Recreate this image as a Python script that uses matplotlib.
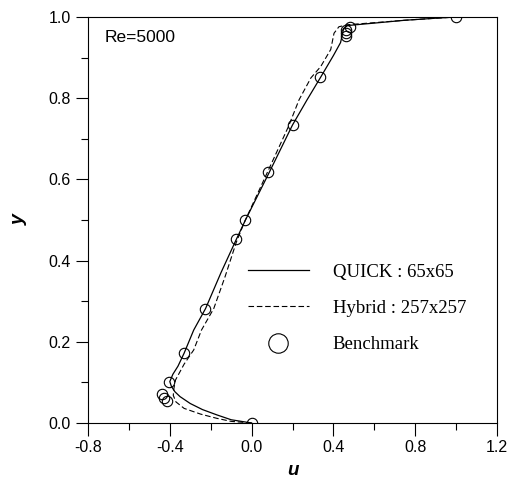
import matplotlib
matplotlib.use("Agg")
import matplotlib.pyplot as plt
from matplotlib.lines import Line2D
from matplotlib.ticker import MultipleLocator

# Benchmark (Ghia et al.) u-velocity along vertical centreline, Re=5000
bench_y = [1.0, 0.9766, 0.9688, 0.9609, 0.9531, 0.8516, 0.7344, 0.6172, 0.5,
           0.4531, 0.2813, 0.1719, 0.1016, 0.0703, 0.0625, 0.0547, 0.0]
bench_u = [1.0, 0.48223, 0.46120, 0.45992, 0.46036, 0.33556, 0.20087, 0.08183,
           -0.03039, -0.07404, -0.22855, -0.33050, -0.40435, -0.43643, -0.42901,
           -0.41165, 0.0]

# QUICK 65x65 profile
quick_u = [0.0, -0.10, -0.17, -0.24, -0.30, -0.35, -0.375, -0.392, -0.400, -0.385,
           -0.36, -0.33, -0.283, -0.225, -0.15, -0.075, -0.03, 0.085, 0.20, 0.27,
           0.338, 0.40, 0.435, 0.445, 0.450, 0.470, 0.60, 0.75, 0.90, 1.0]
quick_y = [0.0, 0.008, 0.020, 0.033, 0.048, 0.065, 0.077, 0.090, 0.102, 0.120,
           0.140, 0.172, 0.229, 0.282, 0.370, 0.452, 0.500, 0.616, 0.734, 0.795,
           0.852, 0.905, 0.937, 0.960, 0.972, 0.979, 0.985, 0.992, 0.997, 1.0]

# Hybrid 257x257 profile
hyb_u = [0.0, -0.10, -0.17, -0.25, -0.33, -0.37, -0.383, -0.380, -0.372, -0.33,
         -0.283, -0.245, -0.185, -0.13, -0.075, -0.035, 0.075, 0.18, 0.232, 0.29,
         0.338, 0.387, 0.403, 0.427, 0.47, 0.60, 0.75, 0.90, 1.0]
hyb_y = [0.0, 0.004, 0.0115, 0.022, 0.036, 0.052, 0.068, 0.085, 0.106, 0.145,
         0.18, 0.229, 0.282, 0.36, 0.445, 0.495, 0.615, 0.73, 0.796, 0.85,
         0.878, 0.92, 0.96, 0.976, 0.981, 0.986, 0.992, 0.997, 1.0]

plt.rcParams['font.family'] = ['Liberation Sans', 'DejaVu Sans']

fig = plt.figure(figsize=(5.07, 4.83), dpi=100)
ax = fig.add_axes([88 / 507, 1 - 423 / 483, 409 / 507, 406 / 483])

ax.plot(quick_u, quick_y, color='black', lw=0.9)
ax.plot(hyb_u, hyb_y, color='black', lw=0.8, dashes=(5, 2.5))
ax.plot(bench_u, bench_y, 'o', mfc='none', mec='black', mew=0.8, ms=7.5)

ax.set_xlim(-0.8, 1.2)
ax.set_ylim(0.0, 1.0)
ax.xaxis.set_major_locator(MultipleLocator(0.4))
ax.xaxis.set_minor_locator(MultipleLocator(0.2))
ax.yaxis.set_major_locator(MultipleLocator(0.2))
ax.yaxis.set_minor_locator(MultipleLocator(0.1))
ax.xaxis.set_major_formatter(lambda v, p: f"{v:.1f}")
ax.yaxis.set_major_formatter(lambda v, p: f"{v:.1f}")
ax.tick_params(which='major', direction='out', length=9, width=0.8, labelsize=11.5)
ax.tick_params(which='minor', direction='out', length=5, width=0.8)
ax.tick_params(top=False, right=False)
for s in ax.spines.values():
    s.set_linewidth(0.8)

ax.set_xlabel('u', fontsize=13.5, fontweight='bold', fontstyle='italic', labelpad=5)
ax.set_ylabel('y', fontsize=14, fontweight='bold', fontstyle='italic', labelpad=15)

ax.text(0.04, 0.95, 'Re=5000', transform=ax.transAxes, fontsize=12.5,
        ha='left', va='center')

handles = [
    Line2D([], [], color='black', lw=0.9),
    Line2D([], [], color='black', lw=0.8, dashes=(5, 2.5)),
    Line2D([], [], ls='none', marker='o', mfc='none', mec='black', mew=0.8, ms=14),
]
labels = ['QUICK : 65x65', 'Hybrid : 257x257', 'Benchmark']
ax.legend(handles, labels, loc='upper left', bbox_to_anchor=(0.39, 0.393),
          frameon=False, borderaxespad=0, borderpad=0, handlelength=3.3,
          handletextpad=1.25, labelspacing=1.02,
          prop={'family': 'Liberation Serif', 'size': 13.5})

fig.savefig('out.png', dpi=100)
